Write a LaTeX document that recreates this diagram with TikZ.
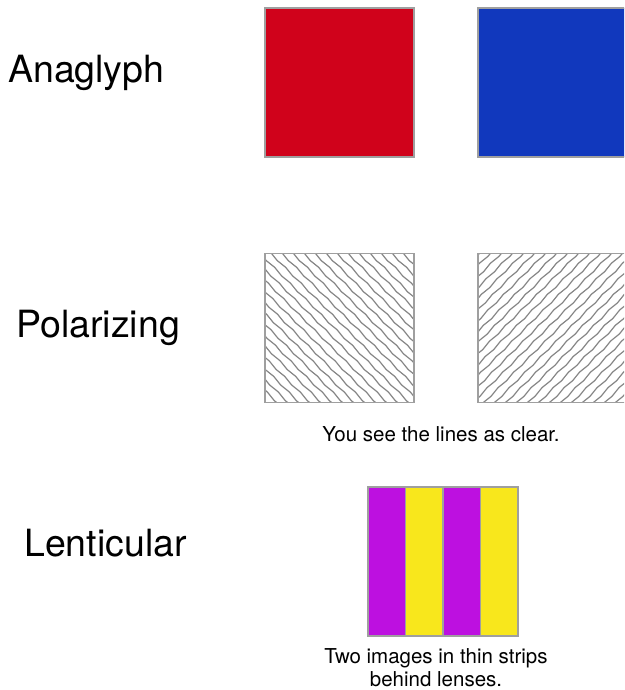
\documentclass[tikz,border=0pt]{standalone}
\usepackage{fontspec}
\setmainfont{TeX Gyre Heros}
\usepackage{tikz}
\usetikzlibrary{positioning,calc,decorations.pathmorphing}
\definecolor{anaRed}{RGB}{208,2,27}
\definecolor{anaBlue}{RGB}{17,56,189}
\definecolor{lentPurple}{RGB}{189,16,224}
\definecolor{lentYellow}{RGB}{248,231,28}
\colorlet{frameGray}{gray!75}
\colorlet{hatchGray}{gray!95}

\tikzset{
    panel/.style={draw=frameGray, line width=1.2pt, inner sep=0pt, outer sep=0pt,
        minimum width=149pt, minimum height=149pt},
    strip/.style={draw=frameGray, line width=1.4pt, inner sep=0pt, outer sep=0pt,
        minimum width=37.5pt, minimum height=149pt},
    hatchline/.style={hatchGray, line width=1.2pt, decorate,
        decoration={snake, amplitude=0.6pt, segment length=22pt}},
    hatchdown/.style={path picture={
        \foreach \k in {-15,...,15}
            \draw[hatchline] ($(path picture bounding box.north west)+(\k*11,-6)$) -- ++(170,170);
    }},
    hatchup/.style={path picture={
        \foreach \k in {-15,...,15}
            \draw[hatchline] ($(path picture bounding box.south west)+(\k*11,6)$) -- ++(170,-170);
    }},
    bigtext/.style={font=\fontsize{37.5}{45}\selectfont, inner sep=0pt},
    smalltext/.style={font=\fontsize{20.5}{22.5}\selectfont, inner sep=0pt, align=center}
}

\begin{document}
\begin{tikzpicture}[x=1pt, y=-1pt]
    \useasboundingbox (0,0) rectangle (624,690);
    \clip (0,0) rectangle (624,690);

    % row labels
    \node[bigtext, anchor=base west] (anaglyph) at (8,83) {Anaglyph};
    \node[bigtext, anchor=base west] (polarizing) at (16,337) {Polarizing};
    \node[bigtext, anchor=base west] (lenticular) at (24,556) {Lenticular};

    % anaglyph
    \node[panel, fill=anaRed] (red) at (339.5,82.5) {};
    \node[panel, fill=anaBlue, right=64pt of red] (blue) {};

    % polarizing
    \node[panel, fill=white, hatchdown] (polleft) at (339.5,328) {};
    \node[panel, fill=white, hatchup, right=64pt of polleft] (polright) {};
    \node[smalltext, anchor=base] (polnote) at (441,441) {You see the lines as clear.};

    % lenticular
    \node[strip, fill=lentPurple] (s1) at (386.75,561.5) {};
    \node[strip, fill=lentYellow, right=0pt of s1] (s2) {};
    \node[strip, fill=lentPurple, right=0pt of s2] (s3) {};
    \node[strip, fill=lentYellow, right=0pt of s3] (s4) {};
    \node[smalltext, anchor=base] (lentnote) at (436,686)
        {Two images in thin strips\\behind lenses.};
\end{tikzpicture}
\end{document}
